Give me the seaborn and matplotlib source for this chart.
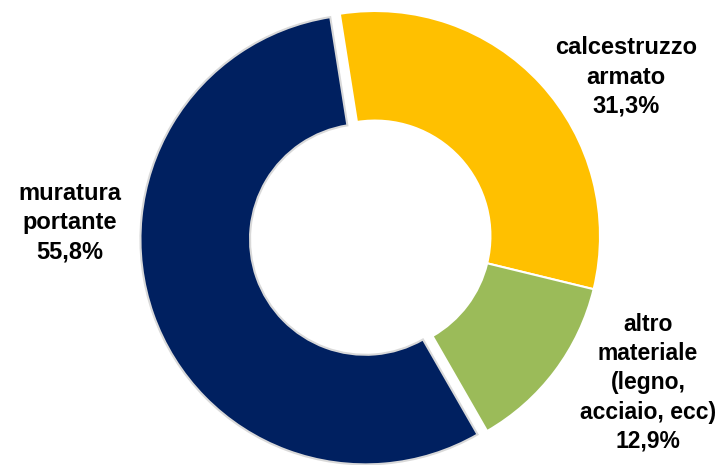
import matplotlib
matplotlib.use("Agg")
import matplotlib.pyplot as plt
import seaborn as sns

# Data
categories = ["calcestruzzo\narmato", "altro\nmateriale\n(legno,\nacciaio, ecc)", "muratura\nportante"]
values = [31.3, 12.9, 55.8]
pct_labels = ["31,3%", "12,9%", "55,8%"]
colors = ["#FFC000", "#9BBB59", "#002060"]

sns.set_theme(style="white")
plt.rcParams["font.family"] = ["Liberation Sans", "DejaVu Sans"]

W, H = 723, 465
fig = plt.figure(figsize=(W / 100, H / 100), dpi=100)
ax = fig.add_axes([0, 0, 1, 1])

cx, cy, R = 375, 236, 225  # pixel center and radius
wedges, _ = ax.pie(values, colors=colors, startangle=99, counterclock=False,
                   explode=[0, 0, 0.045], radius=1,
                   wedgeprops=dict(width=0.487, edgecolor="white", linewidth=1.5))
wedges[2].set_edgecolor("#d9d9d9")
wedges[2].set_linewidth(1.5)

ax.set_xlim(-cx / R, (W - cx) / R)
ax.set_ylim(-(H - cy) / R, cy / R)
ax.set_aspect("auto")
ax.axis("off")

label_pos = [(626, 77), (648, 383), (70, 223)]
label_size = [17, 16.5, 17]
for cat, pct, (px, py), fs in zip(categories, pct_labels, label_pos, label_size):
    fig.text(px / W, 1 - py / H, cat + "\n" + pct, ha="center", va="center",
             fontsize=fs, fontweight="bold", color="black", linespacing=1.34)

fig.savefig("out.png", dpi=100, facecolor="white")
